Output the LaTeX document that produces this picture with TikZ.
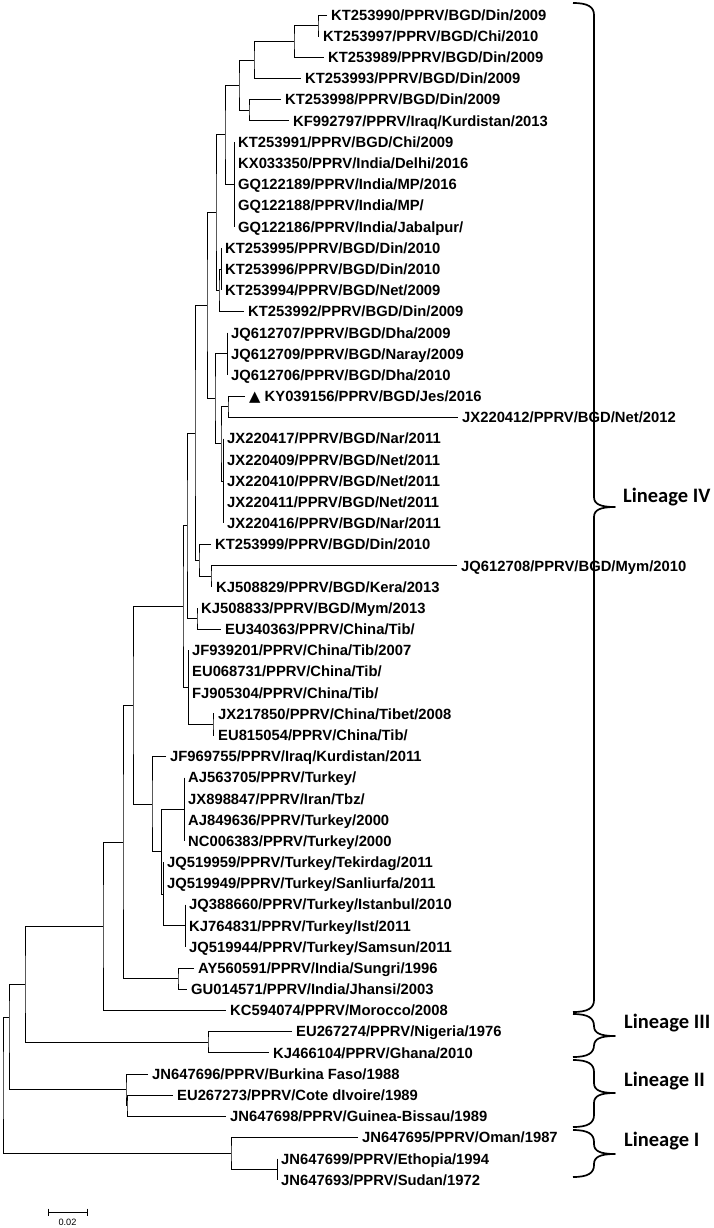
\documentclass[tikz,border=0pt]{standalone}
\usepackage{fontspec}
\setmainfont{Liberation Sans}
\newfontfamily\linfont{Carlito}
\newfontfamily\trifont{DejaVu Sans}
\tikzset{branch/.style={black,line width=0.9pt}, leaf/.style={anchor=west, inner xsep=4pt, inner ysep=0pt, text height=10.6pt, text depth=0pt, font=\bfseries\fontsize{14.8}{16}\selectfont}, lineage/.style={anchor=base west, inner sep=0pt, font=\linfont\bfseries\fontsize{20.5}{24}\selectfont}, bracepen/.style={black,line width=1.7pt,line join=round}, scalelab/.style={inner sep=0pt, font=\fontsize{9.2}{10}\selectfont}}
\newcommand{\linbrace}[3]{\draw[bracepen] (573,#1) .. controls (588,#1) and (594,#1+4) .. (594,#1+12) -- (594,#3-10) .. controls (594,#3-3) and (600,#3) .. (615,#3) .. controls (600,#3) and (594,#3+3) .. (594,#3+10) -- (594,#2-12) .. controls (594,#2-4) and (588,#2) .. (573,#2);}

\begin{document}
\begin{tikzpicture}[x=1pt,y=-1pt]
   \useasboundingbox (0,0) rectangle (713,1228);
   % taxa
   \node[leaf] (KT253990) at (327,15.0) {KT253990/PPRV/BGD/Din/2009};
   \node[leaf] (KT253997) at (319,36.2) {KT253997/PPRV/BGD/Chi/2010};
   \node[leaf] (KT253989) at (324,57.4) {KT253989/PPRV/BGD/Din/2009};
   \node[leaf] (KT253993) at (301,78.5) {KT253993/PPRV/BGD/Din/2009};
   \node[leaf] (KT253998) at (281,99.7) {KT253998/PPRV/BGD/Din/2009};
   \node[leaf] (KF992797) at (289,120.9) {KF992797/PPRV/Iraq/Kurdistan/2013};
   \node[leaf] (KT253991) at (234,142.1) {KT253991/PPRV/BGD/Chi/2009};
   \node[leaf] (KX033350) at (234,163.3) {KX033350/PPRV/India/Delhi/2016};
   \node[leaf] (GQ122189) at (234,184.4) {GQ122189/PPRV/India/MP/2016};
   \node[leaf] (GQ122188) at (234,205.6) {GQ122188/PPRV/India/MP/};
   \node[leaf] (GQ122186) at (234,226.8) {GQ122186/PPRV/India/Jabalpur/};
   \node[leaf] (KT253995) at (221,248.0) {KT253995/PPRV/BGD/Din/2010};
   \node[leaf] (KT253996) at (221,269.2) {KT253996/PPRV/BGD/Din/2010};
   \node[leaf] (KT253994) at (221,290.3) {KT253994/PPRV/BGD/Net/2009};
   \node[leaf] (KT253992) at (244,311.5) {KT253992/PPRV/BGD/Din/2009};
   \node[leaf] (JQ612707) at (227,332.7) {JQ612707/PPRV/BGD/Dha/2009};
   \node[leaf] (JQ612709) at (227,353.9) {JQ612709/PPRV/BGD/Naray/2009};
   \node[leaf] (JQ612706) at (227,375.1) {JQ612706/PPRV/BGD/Dha/2010};
   \node[leaf] (KY039156) at (245,396.2) {{\trifont\bfseries ▲} KY039156/PPRV/BGD/Jes/2016};
   \node[leaf] (JX220412) at (458,417.4) {JX220412/PPRV/BGD/Net/2012};
   \node[leaf] (JX220417) at (223,438.6) {JX220417/PPRV/BGD/Nar/2011};
   \node[leaf] (JX220409) at (223,459.8) {JX220409/PPRV/BGD/Net/2011};
   \node[leaf] (JX220410) at (223,481.0) {JX220410/PPRV/BGD/Net/2011};
   \node[leaf] (JX220411) at (223,502.1) {JX220411/PPRV/BGD/Net/2011};
   \node[leaf] (JX220416) at (223,523.3) {JX220416/PPRV/BGD/Nar/2011};
   \node[leaf] (KT253999) at (211,544.5) {KT253999/PPRV/BGD/Din/2010};
   \node[leaf] (JQ612708) at (457,565.7) {JQ612708/PPRV/BGD/Mym/2010};
   \node[leaf] (KJ508829) at (212,586.9) {KJ508829/PPRV/BGD/Kera/2013};
   \node[leaf] (KJ508833) at (197,608.0) {KJ508833/PPRV/BGD/Mym/2013};
   \node[leaf] (EU340363) at (221,629.2) {EU340363/PPRV/China/Tib/};
   \node[leaf] (JF939201) at (188,650.4) {JF939201/PPRV/China/Tib/2007};
   \node[leaf] (EU068731) at (188,671.6) {EU068731/PPRV/China/Tib/};
   \node[leaf] (FJ905304) at (188,692.8) {FJ905304/PPRV/China/Tib/};
   \node[leaf] (JX217850) at (214,713.9) {JX217850/PPRV/China/Tibet/2008};
   \node[leaf] (EU815054) at (214,735.1) {EU815054/PPRV/China/Tib/};
   \node[leaf] (JF969755) at (166,756.3) {JF969755/PPRV/Iraq/Kurdistan/2011};
   \node[leaf] (AJ563705) at (184,777.5) {AJ563705/PPRV/Turkey/};
   \node[leaf] (JX898847) at (184,798.7) {JX898847/PPRV/Iran/Tbz/};
   \node[leaf] (AJ849636) at (184,819.8) {AJ849636/PPRV/Turkey/2000};
   \node[leaf] (NC006383) at (184,841.0) {NC006383/PPRV/Turkey/2000};
   \node[leaf] (JQ519959) at (163,862.2) {JQ519959/PPRV/Turkey/Tekirdag/2011};
   \node[leaf] (JQ519949) at (163,883.4) {JQ519949/PPRV/Turkey/Sanliurfa/2011};
   \node[leaf] (JQ388660) at (185,904.6) {JQ388660/PPRV/Turkey/Istanbul/2010};
   \node[leaf] (KJ764831) at (185,925.7) {KJ764831/PPRV/Turkey/Ist/2011};
   \node[leaf] (JQ519944) at (185,946.9) {JQ519944/PPRV/Turkey/Samsun/2011};
   \node[leaf] (AY560591) at (194,968.1) {AY560591/PPRV/India/Sungri/1996};
   \node[leaf] (GU014571) at (187,989.3) {GU014571/PPRV/India/Jhansi/2003};
   \node[leaf] (KC594074) at (226,1010.5) {KC594074/PPRV/Morocco/2008};
   \node[leaf] (EU267274) at (292,1031.6) {EU267274/PPRV/Nigeria/1976};
   \node[leaf] (KJ466104) at (269,1052.8) {KJ466104/PPRV/Ghana/2010};
   \node[leaf] (JN647696) at (148,1074.0) {JN647696/PPRV/Burkina Faso/1988};
   \node[leaf] (EU267273) at (173,1095.2) {EU267273/PPRV/Cote dIvoire/1989};
   \node[leaf] (JN647698) at (226,1116.4) {JN647698/PPRV/Guinea-Bissau/1989};
   \node[leaf] (JN647695) at (358,1137.5) {JN647695/PPRV/Oman/1987};
   \node[leaf] (JN647699) at (277,1158.7) {JN647699/PPRV/Ethopia/1994};
   \node[leaf] (JN647693) at (277,1179.9) {JN647693/PPRV/Sudan/1972};
   % internal nodes
   \coordinate (n1) at (318,25.6);
   \coordinate (n2) at (294,41.5);
   \coordinate (n3) at (254,60.0);
   \coordinate (n4) at (249,110.3);
   \coordinate (n5) at (239,85.15);
   \coordinate (p1) at (234,184.4);
   \coordinate (n6) at (225,134.8);
   \coordinate (p2) at (221,269.2);
   \coordinate (n7) at (219,290.35);
   \coordinate (n8) at (216,212.6);
   \coordinate (p3) at (227,353.9);
   \coordinate (n9) at (228,406.8);
   \coordinate (p4) at (223,481.0);
   \coordinate (n10) at (221,443.9);
   \coordinate (n11) at (215,398.9);
   \coordinate (n12) at (207,305.75);
   \coordinate (n13) at (211,576.3);
   \coordinate (n14) at (199,560.4);
   \coordinate (n15) at (195,433.1);
   \coordinate (n16) at (197,618.6);
   \coordinate (n17) at (187,525.85);
   \coordinate (n18) at (213,724.5);
   \coordinate (p5) at (188,687.45);
   \coordinate (n19) at (183,606.65);
   \coordinate (p6) at (184,809.25);
   \coordinate (p7) at (185,925.7);
   \coordinate (n20) at (163,893.95);
   \coordinate (n21) at (161.5,851.6);
   \coordinate (n22) at (152,803.95);
   \coordinate (n23) at (133,705.3);
   \coordinate (n24) at (178,978.7);
   \coordinate (n25) at (123,842.0);
   \coordinate (n26) at (103,926.25);
   \coordinate (n27) at (208,1042.2);
   \coordinate (n28) at (25,984.2);
   \coordinate (n29) at (127,1105.8);
   \coordinate (n30) at (126,1089.9);
   \coordinate (n31) at (9,1017);
   \coordinate (n32) at (277,1169.3);
   \coordinate (n33) at (231,1153.4);
   \coordinate (root) at (3,1085.2);
   % branches
   \draw[branch] (KT253990.west) -| (n1) |- (KT253997.west);
   \draw[branch] (n1) -| (n2) |- (KT253989.west);
   \draw[branch] (n2) -| (n3) |- (KT253993.west);
   \draw[branch] (KT253998.west) -| (n4) |- (KF992797.west);
   \draw[branch] (n3) -| (n5) |- (n4);
   \draw[branch] (KT253991.west) -- (GQ122186.west);
   \draw[branch] (n5) -| (n6) |- (p1);
   \draw[branch] (KT253995.west) -- (KT253994.west);
   \draw[branch] (p2) -| (n7) |- (KT253992.west);
   \draw[branch] (n6) -| (n8) |- (n7);
   \draw[branch] (JQ612707.west) -- (JQ612706.west);
   \draw[branch] (KY039156.west) -| (n9) |- (JX220412.west);
   \draw[branch] (JX220417.west) -- (JX220416.west);
   \draw[branch] (n9) -| (n10) |- (p4);
   \draw[branch] (p3) -| (n11) |- (n10);
   \draw[branch] (n8) -| (n12) |- (n11);
   \draw[branch] (JQ612708.west) -| (n13) |- (KJ508829.west);
   \draw[branch] (KT253999.west) -| (n14) |- (n13);
   \draw[branch] (n12) -| (n15) |- (n14);
   \draw[branch] (KJ508833.west) -| (n16) |- (EU340363.west);
   \draw[branch] (n15) -| (n17) |- (n16);
   \draw[branch] (JX217850.west) -| (n18) |- (EU815054.west);
   \draw[branch] (JF939201.west) |- (n18);
   \draw[branch] (n17) -| (n19) |- (p5);
   \draw[branch] (AJ563705.west) -- (NC006383.west);
   \draw[branch] (JQ388660.west) -- (JQ519944.west);
   \draw[branch] (JQ519959.west) |- (p7);
   \draw[branch] (p6) -| (n21) |- (n20);
   \draw[branch] (JF969755.west) -| (n22) |- (n21);
   \draw[branch] (n19) -| (n23) |- (n22);
   \draw[branch] (AY560591.west) -| (n24) |- (GU014571.west);
   \draw[branch] (n23) -| (n25) |- (n24);
   \draw[branch] (n25) -| (n26) |- (KC594074.west);
   \draw[branch] (EU267274.west) -| (n27) |- (KJ466104.west);
   \draw[branch] (n26) -| (n28) |- (n27);
   \draw[branch] (EU267273.west) -| (n29) |- (JN647698.west);
   \draw[branch] (JN647696.west) -| (n30) |- (n29);
   \draw[branch] (n28) -| (n31) |- (n30);
   \draw[branch] (JN647699.west) -- (JN647693.west);
   \draw[branch] (JN647695.west) -| (n33) |- (n32);
   \draw[branch] (n31) -| (root) |- (n33);
   % lineages
   \linbrace{3}{1012}{507}
   \node[lineage] (linIV) at (623,502) {Lineage IV};
   \linbrace{1014}{1057}{1036}
   \node[lineage] (linIII) at (624,1028) {Lineage III};
   \linbrace{1060}{1127}{1093}
   \node[lineage] (linII) at (624,1086) {Lineage II};
   \linbrace{1130}{1177}{1154}
   \node[lineage] (linI) at (624,1146) {Lineage I};
   % scale bar
   \coordinate (sbl) at (48,1212);
   \coordinate (sbr) at (87,1212);
   \draw[branch] (sbl) -- (sbr) (sbl) ++(0,-3.5) -- ++(0,7) (sbr) ++(0,-3.5) -- ++(0,7);
   \node[scalelab] (sbtxt) at (67.5,1222) {0.02};
\end{tikzpicture}
\end{document}
